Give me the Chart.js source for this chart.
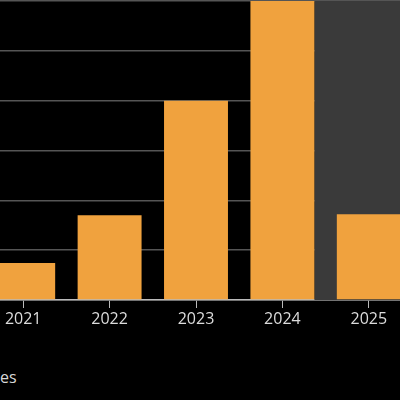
<!DOCTYPE html>
<html>
<head>
<script src="https://cdn.jsdelivr.net/npm/chart.js@4"></script>
<style>
  body { margin:0; background:#000; width:400px; height:400px; overflow:hidden; position:relative; }
  #wrap { position:absolute; left:-20px; top:0; width:432px; height:345px; }
  #note { position:absolute; left:0; top:366px; color:#d8d8d8; font:16px "Open Sans", sans-serif; }
</style>
</head>
<body>
<div id="wrap"><canvas id="c"></canvas></div>
<div id="note">es</div>
<script>
const years = ['2021', '2022', '2023', '2024', '2025'];
const values = [0.74, 1.7, 4.0, 7.0, 1.72];

const shade = {
  id: 'shade',
  beforeDatasetsDraw(chart) {
    const {ctx, chartArea, scales} = chart;
    const x0 = scales.x.getPixelForValue(3.37);
    ctx.save();
    ctx.fillStyle = '#3a3a3a';
    ctx.fillRect(x0, chartArea.top, chartArea.right - x0, chartArea.bottom - chartArea.top);
    ctx.restore();
  }
};

new Chart(document.getElementById('c'), {
  type: 'bar',
  data: {
    labels: years,
    datasets: [{ data: values, backgroundColor: '#f0a23e', barPercentage: 0.74, categoryPercentage: 1 }]
  },
  options: {
    responsive: true,
    maintainAspectRatio: false,
    animation: false,
    layout: { padding: { top: 1 } },
    plugins: { legend: { display: false }, tooltip: { enabled: false } },
    scales: {
      x: {
        grid: { display: true, offset: false, drawOnChartArea: false, color: '#bbb', tickLength: 8 },
        border: { color: '#bbb', width: 1.5 },
        ticks: { color: '#dcdcdc', font: { size: 16, family: 'Open Sans' }, padding: 2 },
        afterFit(s) { s.height = 45; }
      },
      y: {
        min: 0, max: 6,
        ticks: { display: false, stepSize: 1 },
        grid: { color: '#555', lineWidth: 1.5, drawTicks: false },
        border: { display: false },
        afterFit(s) { s.width = 0; }
      }
    }
  },
  plugins: [shade]
});
</script>
</body>
</html>
